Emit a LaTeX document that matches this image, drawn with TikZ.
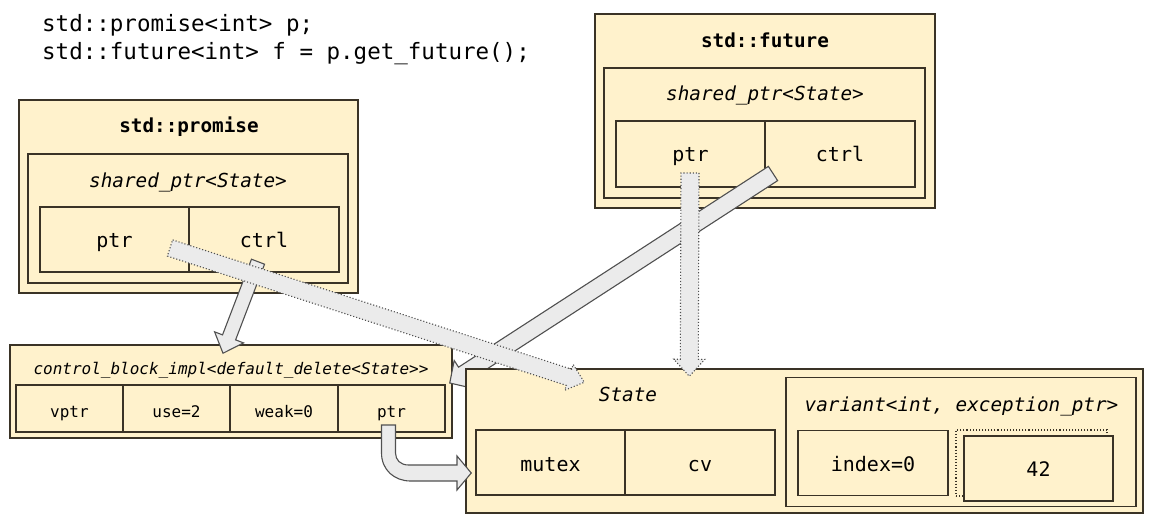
\documentclass[tikz,border=0pt]{standalone}
\usepackage{fontspec}
\setmonofont{DejaVu Sans Mono}
\usetikzlibrary{calc}
\definecolor{beige}{HTML}{FFF2CC}
\definecolor{edge}{HTML}{3A3326}
\definecolor{arrowfill}{HTML}{EBEBEB}
\definecolor{arrowedge}{HTML}{505050}
\tikzset{
  box/.style={draw=edge, fill=beige, line width=1.5pt, inner sep=0pt},
  lbl/.style={font=\ttfamily\fontsize{20}{24}\selectfont, anchor=base, inner sep=0pt},
  ttl/.style={font=\ttfamily\bfseries\fontsize{19.3}{23}\selectfont, anchor=base, inner sep=0pt},
  itl/.style={font=\ttfamily\itshape\fontsize{19.3}{23}\selectfont, anchor=base, inner sep=0pt},
  small/.style={font=\ttfamily\fontsize{16}{19}\selectfont, anchor=base, inner sep=0pt},
  smallit/.style={font=\ttfamily\itshape\fontsize{16}{19}\selectfont, anchor=base, inner sep=0pt},
  code/.style={font=\ttfamily\fontsize{22.5}{27}\selectfont, anchor=base west, inner sep=0pt},
  solidarrow/.style={draw=arrowedge, fill=arrowfill, line width=1.1pt, line join=miter},
  dotarrow/.style={draw=arrowedge, fill=arrowfill, line width=1.1pt, dotted},
  dotbox/.style={draw=edge, line width=1.1pt, dotted, inner sep=0pt},
}
% #1 style, #2 from, #3 to, #4 half shaft, #5 half head, #6 head length
\newcommand\blkarrow[6]{%
  \coordinate (ba-h) at ($(#3)!#6!(#2)$);
  \draw[#1] ($(#2)!#4!90:(#3)$) -- ($(ba-h)!#4!90:(#3)$) -- ($(ba-h)!#5!90:(#3)$) -- (#3)
    -- ($(ba-h)!#5!-90:(#3)$) -- ($(ba-h)!#4!-90:(#3)$) -- ($(#2)!#4!-90:(#3)$) -- cycle;
}
\begin{document}
\begin{tikzpicture}[x=1pt,y=-1pt]
\fill[white] (0,0) rectangle (1153,530);
\useasboundingbox (0,0) rectangle (1153,530);

% code
\node[code] (code1) at (42,31.5) {std::promise<int> p;};
\node[code] (code2) at (42,59.5) {std::future<int> f = p.get\_future();};

% promise
\node[box, minimum width=339pt, minimum height=193pt] (prom) at (188.5,196.5) {};
\node[ttl] (promt) at (189,132) {std::promise};
\node[box, minimum width=320pt, minimum height=129pt] (promsp) at (188,218.5) {};
\node[itl] (promspt) at (188,187) {shared\_ptr<State>};
\node[box, minimum width=149pt, minimum height=65pt] (promptr) at (114.5,239.5) {};
\node[box, minimum width=150pt, minimum height=65pt] (promctrl) at (264,239.5) {};
\node[lbl] (promptrt) at (114.5,247) {ptr};
\node[lbl] (promctrlt) at (264,247) {ctrl};

% future
\node[box, minimum width=340pt, minimum height=194pt] (fut) at (765,111) {};
\node[ttl] (futt) at (765,47) {std::future};
\node[box, minimum width=321pt, minimum height=130pt] (futsp) at (764.5,133) {};
\node[itl] (futspt) at (765,100.7) {shared\_ptr<State>};
\node[box, minimum width=149pt, minimum height=66pt] (futptr) at (690.5,154) {};
\node[box, minimum width=150pt, minimum height=66pt] (futctrl) at (840,154) {};
\node[lbl] (futptrt) at (690.5,161.7) {ptr};
\node[lbl] (futctrlt) at (840,161.7) {ctrl};

% control block
\node[box, minimum width=442pt, minimum height=93pt] (cb) at (231,391.5) {};
\node[smallit] (cbt) at (231,374) {control\_block\_impl<default\_delete<State>{}>};
\node[box, minimum width=107pt, minimum height=47pt] (cbvptr) at (69.5,408.5) {};
\node[box, minimum width=107pt, minimum height=47pt] (cbuse) at (176.5,408.5) {};
\node[box, minimum width=108pt, minimum height=47pt] (cbweak) at (284,408.5) {};
\node[box, minimum width=107pt, minimum height=47pt] (cbptr) at (391.5,408.5) {};
\node[small] (cbvptrt) at (69.5,417.3) {vptr};
\node[small] (cbuset) at (176.5,417.3) {use=2};
\node[small] (cbweakt) at (284,417.3) {weak=0};
\node[small] (cbptrt) at (391.5,417.3) {ptr};

% solid arrows under the State box
\coordinate (a1s) at ($(promctrl.center)+(-6,22.2)$);
\coordinate (a1e) at ($(cb.north)+(-8,9)$);
\blkarrow{solidarrow}{a1s}{a1e}{7pt}{15.5pt}{17pt}
\coordinate (a3s) at ($(futctrl.center)+(-67,19.5)$);
\coordinate (a3e) at ($(cb.east)+(-3,-8.5)$);
\blkarrow{solidarrow}{a3s}{a3e}{8.5pt}{16.5pt}{16pt}

% State
\node[box, minimum width=677pt, minimum height=144pt] (state) at (804.5,441) {};
\node[itl] (statet) at (628,401) {State};
\node[box, minimum width=149pt, minimum height=65pt] (mutex) at (550.5,462.5) {};
\node[box, minimum width=150pt, minimum height=65pt] (cv) at (700,462.5) {};
\node[lbl] (mutext) at (550.5,471) {mutex};
\node[lbl] (cvt) at (700,471) {cv};
\node[box, minimum width=350pt, minimum height=129pt] (variant) at (961,442) {};
\node[itl] (variantt) at (961.5,411.7) {variant<int, exception\_ptr>};
\node[box, minimum width=150pt, minimum height=65pt] (index) at (873,463) {};
\node[lbl] (indext) at (873,471) {index=0};
\node[dotbox, minimum width=151pt, minimum height=66pt] (slot) at (1031.5,463) {};
\node[box, minimum width=149pt, minimum height=65pt] (val) at (1038.5,468.3) {};
\node[lbl] (valt) at (1038.5,476.7) {42};

% dotted arrows on top
\coordinate (a2s) at ($(promptr.center)+(55.5,8.5)$);
\coordinate (a2e) at ($(state.north west)+(119,14)$);
\blkarrow{dotarrow}{a2s}{a2e}{8.5pt}{13.5pt}{16pt}
\coordinate (a4s) at ($(futptr.center)+(-0.5,19)$);
\coordinate (a4e) at ($(state.north west)+(224,8)$);
\blkarrow{dotarrow}{a4s}{a4e}{9pt}{15.5pt}{17pt}

% curved arrow cb.ptr -> mutex
\coordinate (a5s) at ($(cbptr.center)+(-3,16.5)$);
\coordinate (a5e) at ($(mutex.west)+(-4,10.5)$);
\begin{scope}[shift={(a5s)}]
\draw[solidarrow] (-7,0) -- (-7,28) .. controls (-7,45) and (6,56) .. (22,56)
  -- (68.5,56) -- (68.5,65) -- (a5e) -- (68.5,31) -- (68.5,40) -- (20,40)
  .. controls (12,40) and (7,35) .. (7,28) -- (7,0) -- cycle;
\end{scope}
\end{tikzpicture}
\end{document}
